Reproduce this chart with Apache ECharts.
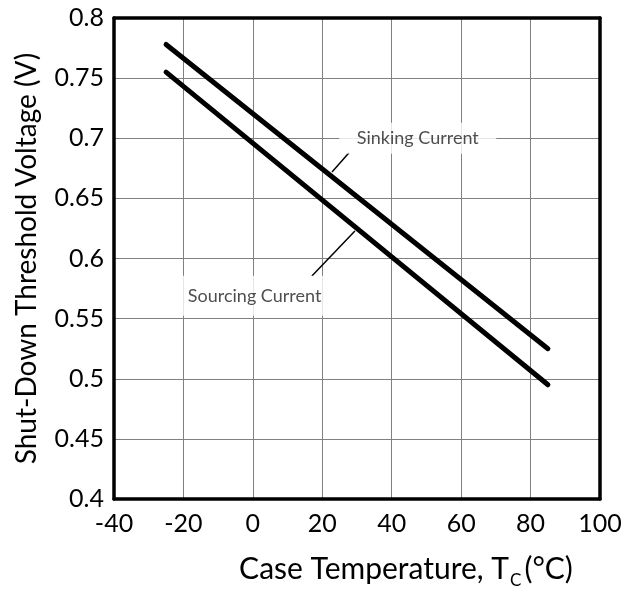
<!DOCTYPE html>
<html>
<head>
<meta charset="utf-8">
<script src="https://cdn.jsdelivr.net/npm/echarts@6/dist/echarts.min.js"></script>
<style>html,body{margin:0;padding:0;background:#fff}#c{width:642px;height:594px}</style>
</head>
<body>
<div id="c"></div>
<script>
// Data
const temps = [-25, 85];
const sinking = [0.778, 0.525];
const sourcing = [0.755, 0.495];
const xTicks = [-40, -20, 0, 20, 40, 60, 80, 100];
const yTicks = [0.4, 0.45, 0.5, 0.55, 0.6, 0.65, 0.7, 0.75, 0.8];
const sinkLabel = [47.5, 0.7];
const sourceLabel = [0.5, 0.569];
const sinkLeader = [[22.8, 0.672], [27.7, 0.688]];
const sourceLeader = [[17.0, 0.5855], [29.4, 0.6228]];

const FONT = 'Lato, "Open Sans", sans-serif';
const border = { show: true, onZero: false, lineStyle: { color: '#000', width: 3.5 } };
const grid = { showMinLine: false, showMaxLine: false, lineStyle: { color: '#808080', width: 1 } };
const chart = echarts.init(document.getElementById('c'));
chart.setOption({
  animation: false,
  backgroundColor: '#fff',
  grid: { left: 114, right: 42, top: 18, bottom: 93 },
  xAxis: [{
    type: 'value', min: xTicks[0], max: xTicks[xTicks.length - 1], interval: 20,
    axisLine: border, axisTick: { show: false },
    axisLabel: { color: '#000', fontSize: 25, fontFamily: FONT, margin: 12, formatter: v => String(v) },
    splitLine: grid,
    name: '{a|Case Temperature, T}{s|C}{a|(°C)}',
    nameLocation: 'middle', nameGap: 50,
    nameTextStyle: {
      padding: [0, 0, 0, 98],
      rich: {
        a: { fontSize: 30, fontFamily: FONT, color: '#000', lineHeight: 40, verticalAlign: 'middle' },
        s: { fontSize: 17, fontFamily: FONT, color: '#000', lineHeight: 40, verticalAlign: 'bottom', padding: [0, 3, 0, 1] }
      }
    }
  }, {
    type: 'value', position: 'top', min: xTicks[0], max: xTicks[xTicks.length - 1], interval: 20,
    axisLine: border, axisTick: { show: false }, axisLabel: { show: false }, splitLine: { show: false }
  }],
  yAxis: [{
    type: 'value', min: yTicks[0], max: yTicks[yTicks.length - 1], interval: 0.05,
    axisLine: border, axisTick: { show: false },
    axisLabel: { color: '#000', fontSize: 25, fontFamily: FONT, margin: 10, formatter: v => String(+v.toFixed(2)) },
    splitLine: grid,
    name: 'Shut-Down Threshold Voltage (V)',
    nameLocation: 'middle', nameGap: 73, nameRotate: 90,
    nameTextStyle: { fontSize: 28, fontFamily: FONT, color: '#000' }
  }, {
    type: 'value', position: 'right', min: yTicks[0], max: yTicks[yTicks.length - 1], interval: 0.05,
    axisLine: border, axisTick: { show: false }, axisLabel: { show: false }, splitLine: { show: false }
  }],
  series: [
    { type: 'line', data: temps.map((t, i) => [t, sinking[i]]), symbol: 'none', lineStyle: { color: '#000', width: 5, cap: 'round' }, z: 3 },
    { type: 'line', data: temps.map((t, i) => [t, sourcing[i]]), symbol: 'none', lineStyle: { color: '#000', width: 5, cap: 'round' }, z: 3 },
    { type: 'line', data: sinkLeader, symbol: 'none', lineStyle: { color: '#000', width: 1.5 }, z: 3 },
    { type: 'line', data: sourceLeader, symbol: 'none', lineStyle: { color: '#000', width: 1.5 }, z: 3 },
    { type: 'scatter', data: [sinkLabel], symbol: 'rect', symbolSize: [157, 31], itemStyle: { color: '#fff' }, z: 4,
      label: { show: true, position: 'inside', formatter: 'Sinking Current', color: '#222', fontSize: 18, fontFamily: FONT } },
    { type: 'scatter', data: [sourceLabel], symbol: 'rect', symbolSize: [148, 40], itemStyle: { color: '#fff' }, z: 4,
      label: { show: true, position: 'inside', formatter: 'Sourcing Current', color: '#222', fontSize: 18, fontFamily: FONT } }
  ]
});
</script>
</body>
</html>
